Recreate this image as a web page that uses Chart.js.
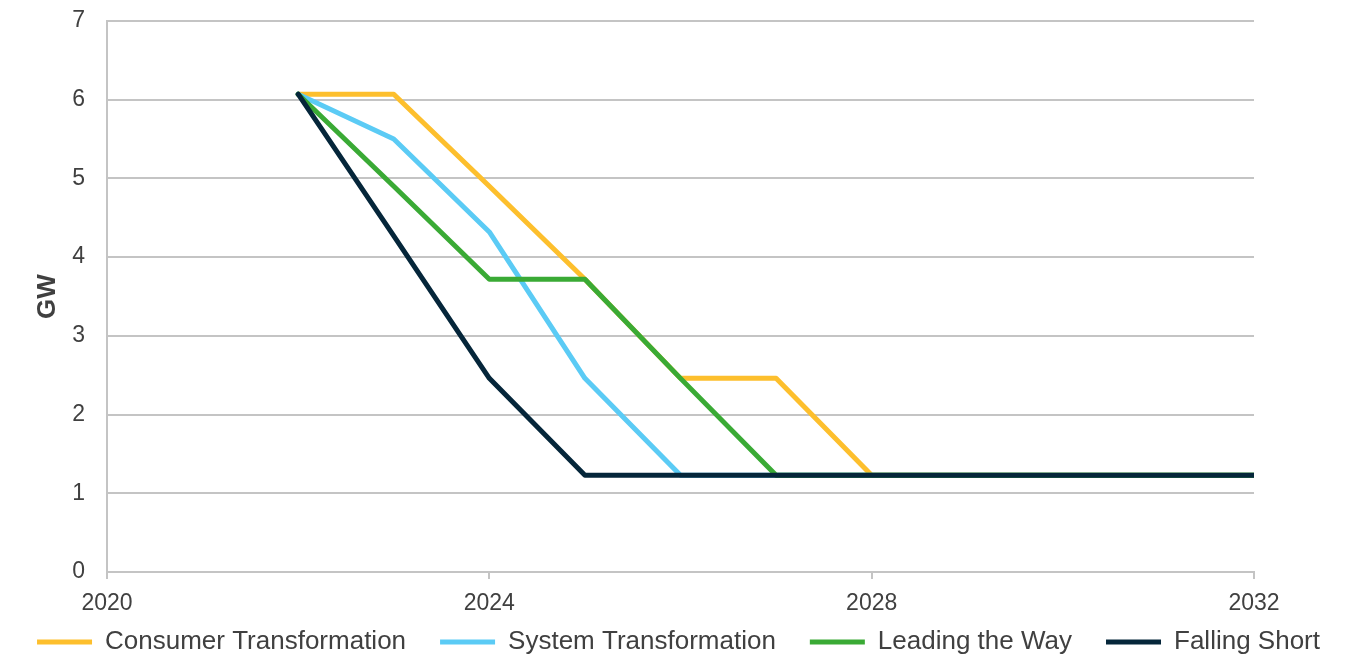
<!DOCTYPE html>
<html>
<head>
<meta charset="utf-8">
<script src="https://cdn.jsdelivr.net/npm/chart.js@4.4.1/dist/chart.umd.min.js"></script>
<style>
  body { margin: 0; background: #fff; }
  #wrap { width: 1357px; height: 658px; }
</style>
</head>
<body>
<div id="wrap"><canvas id="canvas"></canvas></div>
<script>
// years with data (2020-2021 empty on the chart)
var years = [2022, 2023, 2024, 2025, 2026, 2027, 2028, 2029, 2030, 2031, 2032];

var consumerTransformation = [6.07, 6.07, 4.9, 3.72, 2.46, 2.46, 1.23, 1.23, 1.23, 1.23, 1.23];
var systemTransformation   = [6.07, 5.5, 4.32, 2.46, 1.23, 1.23, 1.23, 1.23, 1.23, 1.23, 1.23];
var leadingTheWay          = [6.07, 4.9, 3.72, 3.72, 2.46, 1.23, 1.23, 1.23, 1.23, 1.23, 1.23];
var fallingShort           = [6.07, 4.27, 2.46, 1.23, 1.23, 1.23, 1.23, 1.23, 1.23, 1.23, 1.23];

var seriesNames = ["Consumer Transformation", "System Transformation", "Leading the Way", "Falling Short"];
var seriesColors = ["#FDBF2D", "#5BCBF5", "#3AAA35", "#05263A"];

var xTicks = [2020, 2024, 2028, 2032];
var yMin = 0, yMax = 7;

function pontos(valores) {
  var lista = [];
  for (var i = 0; i < years.length; i++) {
    lista.push({x: years[i], y: valores[i]});
  }
  return lista;
}

var todos = [consumerTransformation, systemTransformation, leadingTheWay, fallingShort];
var datasets = [];
for (var i = 0; i < todos.length; i++) {
  datasets.push({
    label: seriesNames[i],
    data: pontos(todos[i]),
    borderColor: seriesColors[i],
    backgroundColor: seriesColors[i],
    borderWidth: 5,
    borderCapStyle: "round",
    borderJoinStyle: "round",
    pointRadius: 0,
    tension: 0,
    yAxisID: "y",
    order: todos.length - i   // last series drawn on top
  });
}

Chart.defaults.font.family = "'Liberation Sans', Arial, sans-serif";
Chart.defaults.color = "#404040";

var ctx = document.getElementById("canvas").getContext("2d");
window.myLine = new Chart(ctx, {
  type: "line",
  data: { datasets: datasets },
  options: {
    responsive: true,
    maintainAspectRatio: false,
    animation: false,
    layout: { padding: { left: 0, right: 0, top: 21, bottom: -7 } },
    plugins: {
      tooltip: { enabled: false },
      legend: {
        position: "bottom",
        labels: {
          usePointStyle: true,
          pointStyle: "line",
          pointStyleWidth: 55,
          padding: 34,
          font: { size: 26 },
          color: "#404040",
          sort: function (a, b) { return a.datasetIndex - b.datasetIndex; }
        }
      }
    },
    scales: {
      x: {
        type: "linear",
        min: xTicks[0],
        max: xTicks[xTicks.length - 1],
        afterBuildTicks: function (axis) {
          axis.ticks = xTicks.map(function (v) { return {value: v}; });
        },
        afterFit: function (axis) {
          // keep the axis box short so the legend sits close, but don't clip the labels
          axis.height = 23;
          axis.paddingLeft = 0;
          axis.paddingRight = 0;
          axis._computeLabelArea = function () { return undefined; };
        },
        ticks: {
          font: { size: 23 },
          color: "#404040",
          padding: 11,
          maxRotation: 0,
          callback: function (v) { return String(v); }
        },
        grid: { drawOnChartArea: false, drawTicks: true, tickLength: 7, color: "#c4c4c4", lineWidth: 2 },
        border: { color: "#c4c4c4", width: 2 }
      },
      y: {
        min: yMin,
        max: yMax,
        afterFit: function (axis) {
          axis.width = 107;
          axis.paddingTop = 0;
          axis.paddingBottom = 0;
        },
        ticks: { stepSize: 1, font: { size: 23 }, color: "#404040", padding: 22 },
        grid: { color: "#c4c4c4", lineWidth: 2, drawTicks: false },
        border: { color: "#c4c4c4", width: 2 },
        title: {
          display: true,
          text: "GW",
          font: { size: 26, weight: "bold" },
          color: "#404040",
          padding: { top: 32, bottom: 0 }
        }
      },
      y2: {
        position: "right",
        min: yMin,
        max: yMax,
        afterFit: function (axis) {
          axis.width = 103;
          axis.paddingTop = 0;
          axis.paddingBottom = 0;
        },
        ticks: { display: false },
        grid: { display: false },
        border: { display: false }
      }
    }
  }
});
</script>
</body>
</html>
